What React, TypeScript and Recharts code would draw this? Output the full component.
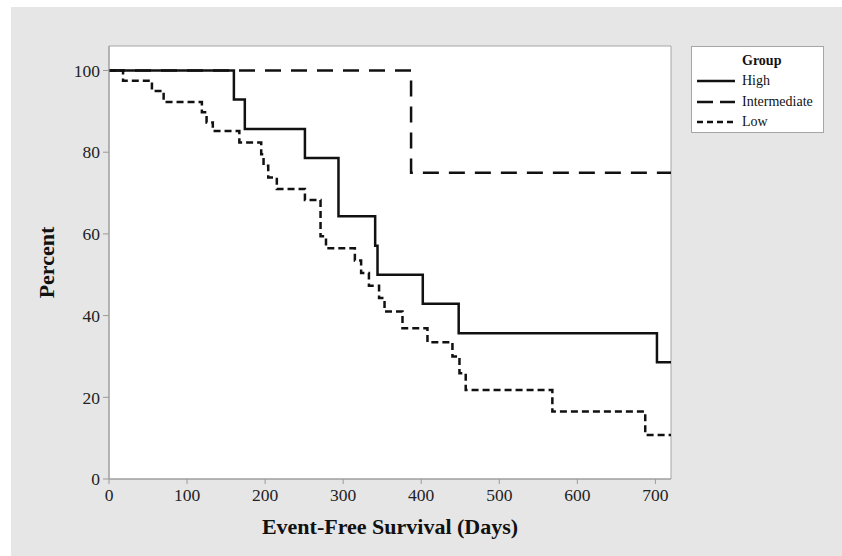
import React from "react";
import { LineChart, Line, XAxis, YAxis, ReferenceArea } from "recharts";

// Kaplan-Meier style event-free survival
const highDays = [0, 160, 174, 251, 294, 341, 344, 402, 448, 702, 720];
const highPct = [100, 92.9, 85.7, 78.6, 64.3, 57.1, 50.0, 42.9, 35.7, 28.6, 28.6];

const intDays = [0, 387, 720];
const intPct = [100, 75, 75];

const lowDays = [
  0, 18, 55, 70, 119, 125, 133, 167, 195, 198, 204, 215, 251, 271, 278, 315, 323, 333, 346,
  353, 376, 408, 440, 449, 457, 568, 687, 720,
];
const lowPct = [
  100, 97.5, 95, 92.3, 89.8, 87.3, 85.2, 82.4, 79.5, 76.7, 73.8, 71.0, 68.3, 59.4, 56.5, 53.5,
  50.4, 47.3, 44.3, 41.0, 36.9, 33.5, 30.0, 25.9, 21.8, 16.5, 10.8, 10.8,
];

const xTicks = [0, 100, 200, 300, 400, 500, 600, 700];
const yTicks = [0, 20, 40, 60, 80, 100];

const toRows = (days: number[], pct: number[]) => days.map((d, i) => ({ day: d, pct: pct[i] }));

const highData = toRows(highDays, highPct);
const intData = toRows(intDays, intPct);
const lowData = toRows(lowDays, lowPct);

const FONT = '"Liberation Serif", "Times New Roman", serif';
const AXIS = "#9a9a9a";
const INK = "#111";

const legendRows = [
  { name: "High", dash: undefined as string | undefined, top: 24 },
  { name: "Intermediate", dash: "16 7", top: 45 },
  { name: "Low", dash: "6 4", top: 65 },
];

function GroupLegend() {
  return (
    <div
      style={{
        position: "absolute",
        left: 691,
        top: 46,
        width: 133,
        height: 87,
        boxSizing: "border-box",
        border: "1px solid #a6a6a6",
        background: "#fff",
        fontFamily: FONT,
        fontSize: 14,
        color: INK,
      }}
    >
      <div style={{ position: "absolute", left: 50, top: 4, lineHeight: "20px", fontWeight: "bold" }}>
        Group
      </div>
      {legendRows.map((r) => (
        <div key={r.name} style={{ position: "absolute", left: 0, top: r.top, height: 20, width: 133 }}>
          <svg width={40} height={20} style={{ position: "absolute", left: 5, top: 0 }}>
            <line x1={0} y1={10} x2={38} y2={10} stroke={INK} strokeWidth={2.5} strokeDasharray={r.dash} />
          </svg>
          <span style={{ position: "absolute", left: 50, top: 0, lineHeight: "20px" }}>{r.name}</span>
        </div>
      ))}
    </div>
  );
}

export default function App() {
  return (
    <div style={{ position: "relative", width: 842, height: 556, background: "#fff", overflow: "hidden" }}>
      <style>{`body{margin:0}`}</style>
      <div style={{ position: "absolute", left: 11, top: 7, right: 0, bottom: 0, background: "#e6e6e6" }} />
      <div style={{ position: "absolute", left: 0, top: 0 }}>
        <LineChart width={842} height={556} margin={{ top: 46, right: 171, left: 0, bottom: 0 }}>
          <ReferenceArea x1={0} x2={720} y1={0} y2={106} fill="#fff" fillOpacity={1} stroke="#a6a6a6" />
          <XAxis
            type="number"
            dataKey="day"
            domain={[0, 720]}
            ticks={xTicks}
            allowDataOverflow
            height={77}
            tickSize={5}
            tickMargin={5}
            stroke={AXIS}
            tick={{ fill: "#222", fontSize: 17.5, fontFamily: FONT }}
            label={{
              value: "Event-Free Survival (Days)",
              position: "insideBottom",
              offset: 22,
              style: { fill: INK, fontSize: 22, fontWeight: "bold", fontFamily: FONT },
            }}
          />
          <YAxis
            type="number"
            domain={[0, 106]}
            ticks={yTicks}
            allowDataOverflow
            width={109}
            tickSize={6}
            tickMargin={3}
            stroke={AXIS}
            tick={{ fill: "#222", fontSize: 17.5, fontFamily: FONT }}
            label={{
              value: "Percent",
              angle: -90,
              position: "insideLeft",
              offset: 46,
              style: { textAnchor: "middle", fill: INK, fontSize: 22, fontWeight: "bold", fontFamily: FONT },
            }}
          />
          <Line
            data={intData}
            dataKey="pct"
            type="stepAfter"
            stroke={INK}
            strokeWidth={2.5}
            strokeDasharray="16 10"
            dot={false}
            isAnimationActive={false}
          />
          <Line
            data={lowData}
            dataKey="pct"
            type="stepAfter"
            stroke={INK}
            strokeWidth={2.5}
            strokeDasharray="7 4"
            dot={false}
            isAnimationActive={false}
          />
          <Line
            data={highData}
            dataKey="pct"
            type="stepAfter"
            stroke={INK}
            strokeWidth={2.5}
            dot={false}
            isAnimationActive={false}
          />
        </LineChart>
      </div>
      <GroupLegend />
    </div>
  );
}
